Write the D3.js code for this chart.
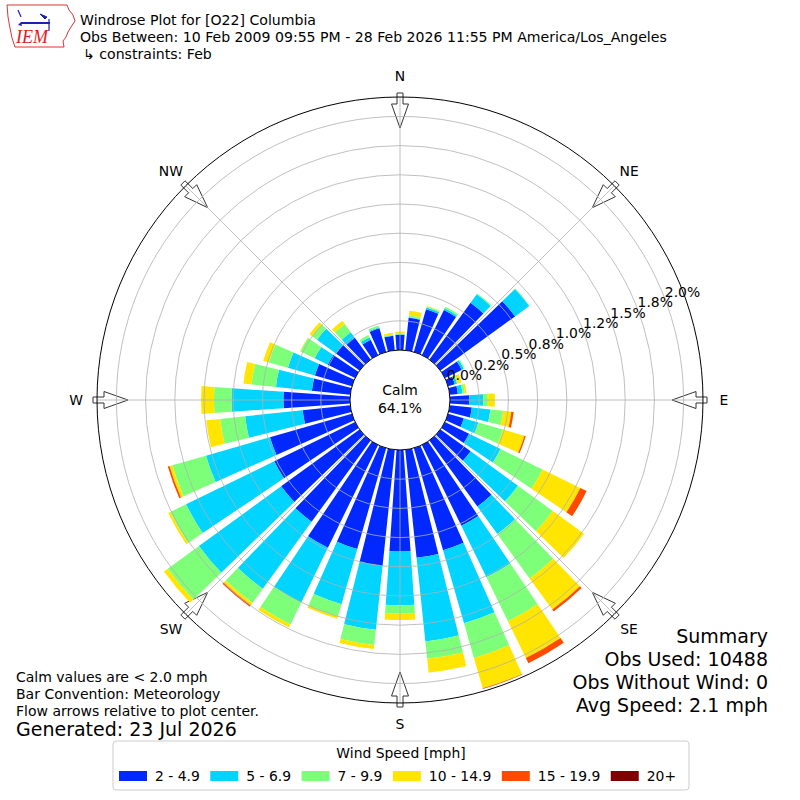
<!DOCTYPE html>
<html lang="en">
<head>
<meta charset="UTF-8">
<title>Windrose Plot for [O22] Columbia</title>
<script src="https://d3js.org/d3.v7.min.js"></script>
<style>
    body { margin: 0; background: #fff; }
    svg { display: block; }
    text { font-family: 'DejaVu Sans', sans-serif; fill: #000; }
</style>
</head>
<body>
<script>
    // Wind direction of each bar (degrees, meteorological convention)
    const directions = [0, 10, 20, 30, 40, 50, 60, 70, 80, 90, 100, 110,
                        120, 130, 140, 150, 160, 170, 180, 190, 200, 210, 220, 230,
                        240, 250, 260, 270, 280, 290, 300, 310, 320, 330, 340, 350];

    // Speed bins and their frequency (% of all obs) per direction
    const binLabels = ["2 - 4.9", "5 - 6.9", "7 - 9.9", "10 - 14.9", "15 - 19.9", "20+"];
    const binColors = ["#0028ff", "#00d4ff", "#7dff7a", "#ffe500", "#ff4a00", "#800000"];

    const speed2to5 = [0.13, 0.28, 0.38, 0.43, 0.60, 0.79, 0.16, 0.06, 0.07, 0.165, 0.19, 0.14,
                       0.23, 0.32, 0.70, 0.77, 0.91, 0.93, 0.87, 1.00, 0.90, 0.98, 0.86, 0.83,
                       0.77, 0.73, 0.41, 0.57, 0.33, 0.33, 0.26, 0.25, 0.23, 0.145, 0.21, 0.125];
    const speed5to7 = [0.005, 0.005, 0.015, 0.015, 0.09, 0.15, 0.02, 0.02, 0.04, 0.12, 0.16, 0.13,
                       0.30, 0.50, 0.29, 0.49, 0.65, 0.72, 0.46, 0.55, 0.49, 0.52, 0.71, 0.87,
                       0.84, 0.57, 0.495, 0.445, 0.31, 0.24, 0.125, 0.20, 0.06, 0.025, 0.01, 0.005];
    const speed7to10 = [0.005, 0.015, 0.01, 0.015, 0.01, 0.005, 0.01, 0.005, 0.02, 0.04, 0.11, 0.22,
                        0.40, 0.37, 0.47, 0.42, 0.31, 0.15, 0.07, 0.13, 0.11, 0.21, 0.15, 0.33,
                        0.15, 0.30, 0.215, 0.15, 0.21, 0.17, 0.135, 0.05, 0.085, 0.02, 0.015, 0.005];
    const speed10to15 = [0.017, 0.04, 0.005, 0, 0, 0, 0, 0.035, 0.015, 0.06, 0.07, 0.19,
                         0.36, 0.33, 0.33, 0.35, 0.27, 0.12, 0.055, 0.035, 0.02, 0.03, 0.025, 0.04,
                         0.02, 0.025, 0.12, 0.11, 0.07, 0.05, 0.005, 0.03, 0.035, 0, 0, 0.015];
    const speed15to20 = [0, 0, 0, 0, 0, 0, 0, 0, 0, 0, 0.02, 0.012,
                         0.06, 0, 0.02, 0.05, 0.005, 0, 0, 0, 0, 0, 0.015, 0,
                         0, 0.015, 0, 0, 0, 0, 0, 0, 0, 0, 0, 0];
    const speed20plus = [0, 0, 0, 0, 0, 0, 0, 0, 0, 0, 0, 0,
                         0, 0, 0, 0, 0, 0, 0, 0, 0, 0, 0, 0,
                         0, 0, 0, 0, 0, 0, 0, 0, 0, 0, 0, 0];

    // Radial grid (percent) and its labels
    const radialTicks = [0, 0.25, 0.5, 0.75, 1.0, 1.25, 1.5, 1.75, 2.0];
    const radialTickLabels = ["0.0%", "0.2%", "0.5%", "0.8%", "1.0%", "1.2%", "1.5%", "1.8%", "2.0%"];

    const compassAngles = [0, 45, 90, 135, 180, 225, 270, 315];
    const compassLabels = ["N", "NE", "E", "SE", "S", "SW", "W", "NW"];

    const calmPercent = "64.1%";
    const summaryLines = ["Summary", "Obs Used: 10488", "Obs Without Wind: 0", "Avg Speed: 2.1 mph"];
    const noteLines = ["Calm values are < 2.0 mph", "Bar Convention: Meteorology", "Flow arrows relative to plot center."];

    // ---------------------------------------------------------------
    const width = 800, height = 800;
    const cx = 400, cy = 400;
    const outerR = 303;
    const r = d3.scaleLinear().domain([0, 2]).range([50, 283.6]);
    const rad = deg => deg * Math.PI / 180;

    const svg = d3.select("body").append("svg")
        .attr("width", width)
        .attr("height", height);

    // Header
    const header = svg.append("g").style("font-size", "14.1px");
    header.append("text").attr("x", 80).attr("y", 25).text("Windrose Plot for [O22] Columbia");
    header.append("text").attr("x", 80).attr("y", 42)
        .text("Obs Between: 10 Feb 2009 09:55 PM - 28 Feb 2026 11:55 PM America/Los_Angeles");
    header.append("text").attr("x", 83).attr("y", 59).text("\u21b3 constraints: Feb");

    // IEM logo (rough)
    const logo = svg.append("g");
    logo.append("path")
        .attr("d", "M7,5 L67,5 L69,10 L73,15 L75,21 L71,27 L68,32 L66,37 L63,41 L64,47 L15,47 L12,38 L10,28 L8,17 Z")
        .attr("fill", "none").attr("stroke", "#d33").attr("stroke-width", 1);
    logo.append("path").attr("d", "M21,23 L50,23").attr("stroke", "#1a22b0").attr("stroke-width", 2);
    logo.append("path").attr("d", "M18,10 L21,17").attr("stroke", "#1a22b0").attr("stroke-width", 1.2);
    logo.append("path").attr("d", "M40,14 L47,17 L45,19 Z").attr("fill", "#1a22b0").attr("stroke", "#1a22b0");
    logo.append("path").attr("d", "M49,19 L49,31").attr("stroke", "#1a22b0").attr("stroke-width", 1.2);
    logo.append("path").attr("d", "M18,25 L21,22 L22,26 Z").attr("fill", "#1a22b0");
    logo.append("text").attr("x", 16).attr("y", 43)
        .style("font-family", "'Liberation Serif', serif").style("font-style", "italic")
        .style("font-size", "18px").style("fill", "#d22").text("IEM");

    const plot = svg.append("g").attr("transform", `translate(${cx},${cy})`);

    // Flow arrows at the rim, pointing at the center
    const arrowShape = [[307, -3], [296, -3], [296, -8.5], [272, 0], [296, 8.5], [296, 3], [307, 3]];
    plot.selectAll("polygon.arrow")
        .data(compassAngles)
        .join("polygon")
        .attr("class", "arrow")
        .attr("points", a => arrowShape.map(([rr, w]) => {
            const t = rad(a);
            return [rr * Math.sin(t) + w * Math.cos(t), -rr * Math.cos(t) + w * Math.sin(t)].join(",");
        }).join(" "))
        .attr("fill", "#fff")
        .attr("stroke", "#333")
        .attr("stroke-width", 1);

    // Stacked bars
    const binKeys = ["b0", "b1", "b2", "b3", "b4", "b5"];
    const binValues = [speed2to5, speed5to7, speed7to10, speed10to15, speed15to20, speed20plus];
    const rows = directions.map((dir, i) => {
        const row = { dir: dir };
        binKeys.forEach((k, j) => { row[k] = binValues[j][i]; });
        return row;
    });
    const series = d3.stack().keys(binKeys)(rows);

    const arc = d3.arc();
    plot.append("g")
        .selectAll("g")
        .data(series)
        .join("g")
        .attr("fill", (d, i) => binColors[i])
        .selectAll("path")
        .data(d => d.filter(s => s[1] - s[0] > 0))
        .join("path")
        .attr("d", s => arc({
            innerRadius: r(s[0]),
            outerRadius: r(s[1]),
            startAngle: rad(s.data.dir - 4),
            endAngle: rad(s.data.dir + 4)
        }));

    // Grid over the bars
    plot.append("g")
        .selectAll("circle")
        .data(radialTicks.slice(1))
        .join("circle")
        .attr("r", d => r(d))
        .attr("fill", "none")
        .attr("stroke", "#b0b0b0")
        .attr("stroke-width", 0.8);

    plot.append("g")
        .selectAll("line")
        .data(compassAngles)
        .join("line")
        .attr("x1", 0).attr("y1", 0)
        .attr("x2", a => outerR * Math.sin(rad(a)))
        .attr("y2", a => -outerR * Math.cos(rad(a)))
        .attr("stroke", "#b0b0b0")
        .attr("stroke-width", 0.8);

    plot.append("circle")
        .attr("r", outerR)
        .attr("fill", "none")
        .attr("stroke", "#000")
        .attr("stroke-width", 1);

    // Calm circle
    plot.append("circle")
        .attr("r", r(0))
        .attr("fill", "#fff")
        .attr("stroke", "#000")
        .attr("stroke-width", 1);
    plot.append("text").attr("y", -5).attr("text-anchor", "middle")
        .style("font-size", "13.9px").text("Calm");
    plot.append("text").attr("y", 12.5).attr("text-anchor", "middle")
        .style("font-size", "13.9px").text(calmPercent);

    // Radial tick labels
    const labelAngle = rad(69);
    plot.append("g")
        .selectAll("text")
        .data(radialTicks)
        .join("text")
        .attr("x", (d) => (r(d) + 19) * Math.sin(labelAngle))
        .attr("y", (d) => -(r(d) + 19) * Math.cos(labelAngle))
        .attr("text-anchor", "middle")
        .attr("dominant-baseline", "central")
        .style("font-size", "13.9px")
        .text((d, i) => radialTickLabels[i]);

    // Compass labels
    plot.append("g")
        .selectAll("text")
        .data(compassAngles)
        .join("text")
        .attr("x", a => 324 * Math.sin(rad(a)))
        .attr("y", a => -324 * Math.cos(rad(a)))
        .attr("text-anchor", "middle")
        .attr("dominant-baseline", "central")
        .style("font-size", "13.9px")
        .text((a, i) => compassLabels[i]);

    // Summary block (bottom right)
    svg.append("g")
        .selectAll("text")
        .data(summaryLines)
        .join("text")
        .attr("x", 768)
        .attr("y", (d, i) => 643 + i * 23)
        .attr("text-anchor", "end")
        .style("font-size", "19px")
        .text(d => d);

    // Notes (bottom left)
    svg.append("g")
        .selectAll("text")
        .data(noteLines)
        .join("text")
        .attr("x", 16)
        .attr("y", (d, i) => 682 + i * 17)
        .style("font-size", "14px")
        .text(d => d);
    svg.append("text").attr("x", 16).attr("y", 736)
        .style("font-size", "19px").text("Generated: 23 Jul 2026");

    // Legend
    const legend = svg.append("g");
    legend.append("rect")
        .attr("x", 113).attr("y", 741)
        .attr("width", 576).attr("height", 49)
        .attr("rx", 3)
        .attr("fill", "#fff")
        .attr("stroke", "#cccccc");
    legend.append("text")
        .attr("x", 401).attr("y", 758)
        .attr("text-anchor", "middle")
        .style("font-size", "13.9px")
        .text("Wind Speed [mph]");

    let lx = 119;
    binLabels.forEach((lab, i) => {
        legend.append("rect")
            .attr("x", lx).attr("y", 771)
            .attr("width", 28).attr("height", 10)
            .attr("fill", binColors[i]);
        const t = legend.append("text")
            .attr("x", lx + 36).attr("y", 781)
            .style("font-size", "13.9px")
            .text(lab);
        lx += 36 + t.node().getComputedTextLength() + 10.5;
    });
</script>
</body>
</html>
